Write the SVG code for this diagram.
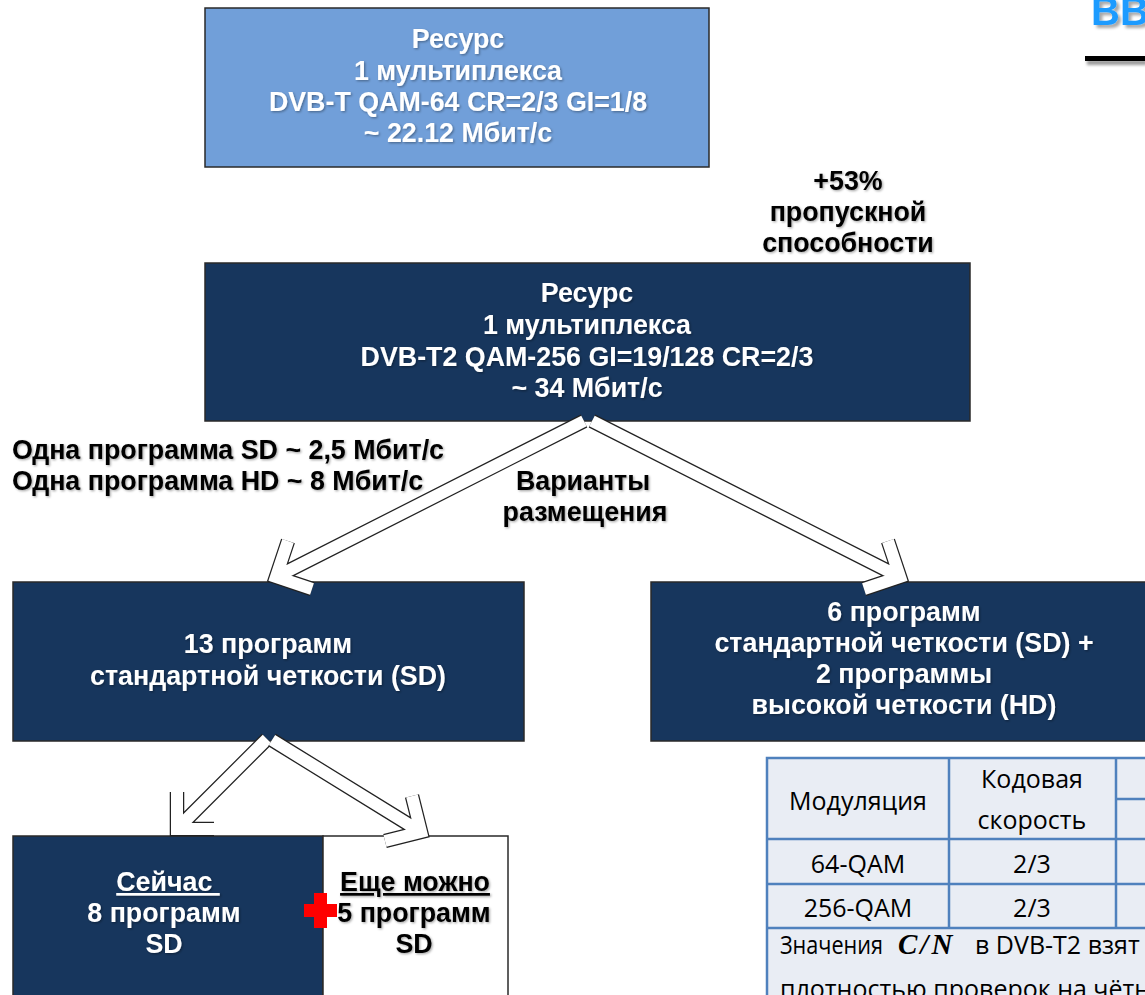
<svg xmlns="http://www.w3.org/2000/svg" xmlns:xlink="http://www.w3.org/1999/xlink" width="1145" height="995" viewBox="0 0 1145 995">
<defs>
<style>
.box{stroke:#2a2a2a;stroke-width:1.5}
.navy{fill:#17365d}
.light{fill:#719fd9}
.wt{fill:#ffffff;font-family:"Liberation Sans",Arial,sans-serif;font-weight:bold;font-size:26.8px;text-anchor:middle}
.bt{fill:#000000;font-family:"Liberation Sans",Arial,sans-serif;font-weight:bold;font-size:26.8px;text-anchor:middle}
.tt{fill:#000000;font-family:"Open Sans",sans-serif;font-size:25px;text-anchor:middle}
.tl{fill:#000000;font-family:"Open Sans",sans-serif;font-size:25px}
.cell{fill:#e9edf4;stroke:#4f81bd;stroke-width:2.5}
.tline{stroke:#4f81bd;stroke-width:2.5;fill:none}
.aout{fill:none;stroke:#222222;stroke-width:14.5;stroke-linejoin:miter;stroke-linecap:butt}
.ain{fill:none;stroke:#ffffff;stroke-width:12;stroke-linejoin:miter;stroke-linecap:butt}
</style>
<filter id="sh" x="-10%" y="-30%" width="120%" height="160%">
<feDropShadow dx="1.2" dy="1.2" stdDeviation="0.9" flood-color="#000000" flood-opacity="0.35"/>
</filter>
<filter id="tsh" x="-20%" y="-50%" width="140%" height="200%">
<feDropShadow dx="3" dy="3" stdDeviation="1.5" flood-color="#000000" flood-opacity="0.35"/>
</filter>
<filter id="blur" x="-20%" y="-100%" width="140%" height="300%">
<feGaussianBlur stdDeviation="1.5"/>
</filter>
<path id="a1" d="M584,421 L276,577 M288,541 L276,577 L312,589"/>
<path id="a2" d="M592,421 L900,577 M888,541 L900,577 L864,589"/>
<path id="a3" d="M267,739 L177,829 M177,792 L177,829 L214,829"/>
<path id="a4" d="M272,740 L421,832 M412,796 L421,832 L385,841"/>
</defs>
<rect width="1145" height="995" fill="#ffffff"/>

<g id="title">
<text x="1091" y="25" font-family="Liberation Sans,Arial,sans-serif" font-weight="bold" font-size="40" fill="#1b9bff" filter="url(#tsh)">ВВ</text>
<rect x="1087" y="60" width="60" height="5" fill="#9a9a9a" filter="url(#blur)"/>
<rect x="1085" y="56" width="60" height="5" fill="#000000"/>
</g>

<g id="node-dvbt">
<rect class="box light" x="205" y="8" width="504" height="159"/>
<g filter="url(#sh)">
<text class="wt" x="458" y="48">Ресурс</text>
<text class="wt" x="458" y="80">1 мультиплекса</text>
<text class="wt" x="458" y="111">DVB-T QAM-64 CR=2/3 GI=1/8</text>
<text class="wt" x="458" y="142">~ 22.12 Мбит/с</text>
</g>
</g>

<g id="label-53" filter="url(#sh)">
<text class="bt" x="848" y="190">+53%</text>
<text class="bt" x="848" y="221">пропускной</text>
<text class="bt" x="848" y="252">способности</text>
</g>

<g id="node-dvbt2">
<rect class="box navy" x="205" y="263" width="765" height="158"/>
<g filter="url(#sh)">
<text class="wt" x="587" y="302">Ресурс</text>
<text class="wt" x="587" y="334">1 мультиплекса</text>
<text class="wt" x="587" y="366">DVB-T2 QAM-256 GI=19/128 CR=2/3</text>
<text class="wt" x="587" y="397">~ 34 Мбит/с</text>
</g>
</g>

<g id="label-rates" filter="url(#sh)">
<text class="bt" x="12" y="459" style="text-anchor:start">Одна программа SD ~ 2,5 Мбит/с</text>
<text class="bt" x="12" y="490" style="text-anchor:start">Одна программа HD ~ 8 Мбит/с</text>
</g>

<g id="label-variants" filter="url(#sh)">
<text class="bt" x="583" y="490">Варианты</text>
<text class="bt" x="585" y="521">размещения</text>
</g>

<g id="node-13sd">
<rect class="box navy" x="13" y="582" width="511" height="159"/>
<g filter="url(#sh)">
<text class="wt" x="268" y="653">13 программ</text>
<text class="wt" x="268" y="685">стандартной четкости (SD)</text>
</g>
</g>

<g id="node-6sd2hd">
<rect class="box navy" x="651" y="582" width="500" height="159"/>
<g filter="url(#sh)">
<text class="wt" x="904" y="621">6 программ</text>
<text class="wt" x="904" y="652">стандартной четкости (SD) +</text>
<text class="wt" x="904" y="683">2 программы</text>
<text class="wt" x="904" y="714">высокой четкости (HD)</text>
</g>
</g>

<g id="node-now">
<rect class="box navy" x="13" y="836" width="310" height="170"/>
<g filter="url(#sh)">
<text class="wt" x="168" y="891" text-decoration="underline">Сейчас&#160;</text>
<text class="wt" x="164" y="922">8 программ</text>
<text class="wt" x="164" y="953">SD</text>
</g>
</g>

<g id="node-more">
<rect class="box" fill="#ffffff" x="323" y="836" width="185" height="170"/>
<g filter="url(#sh)">
<text class="bt" x="415" y="891" text-decoration="underline">Еще можно</text>
<text class="bt" x="414" y="922">5 программ</text>
<text class="bt" x="414" y="953">SD</text>
</g>
<rect x="314" y="893" width="13" height="35" fill="#ff0000"/>
<rect x="304" y="904" width="33" height="13" fill="#ff0000"/>
</g>

<g id="connectors">
<use xlink:href="#a1" href="#a1" class="aout"/>
<use xlink:href="#a1" href="#a1" class="ain"/>
<use xlink:href="#a2" href="#a2" class="aout"/>
<use xlink:href="#a2" href="#a2" class="ain"/>
<use xlink:href="#a3" href="#a3" class="aout"/>
<use xlink:href="#a3" href="#a3" class="ain"/>
<use xlink:href="#a4" href="#a4" class="aout"/>
<use xlink:href="#a4" href="#a4" class="ain"/>
</g>

<g id="table">
<rect class="cell" x="767" y="758" width="400" height="260"/>
<line class="tline" x1="767" y1="839" x2="1145" y2="839"/>
<line class="tline" x1="767" y1="884" x2="1145" y2="884"/>
<line class="tline" x1="767" y1="928" x2="1145" y2="928"/>
<line class="tline" x1="1116" y1="799" x2="1145" y2="799"/>
<line class="tline" x1="949" y1="758" x2="949" y2="928"/>
<line class="tline" x1="1116" y1="758" x2="1116" y2="928"/>
<text class="tt" x="858" y="810">Модуляция</text>
<text class="tt" x="1032" y="788">Кодовая</text>
<text class="tt" x="1032" y="829">скорость</text>
<text class="tt" x="858" y="873">64-QAM</text>
<text class="tt" x="1032" y="873">2/3</text>
<text class="tt" x="858" y="917">256-QAM</text>
<text class="tt" x="1032" y="917">2/3</text>
<text class="tl" x="780" y="954" textLength="103" lengthAdjust="spacingAndGlyphs">Значения</text>
<text x="898" y="954" font-family="Liberation Serif,serif" font-weight="bold" font-style="italic" font-size="29" letter-spacing="3">C/N</text>
<text class="tl" x="975" y="954">в DVB-T2 взят</text>
<text class="tl" x="780" y="998">плотностью проверок на чётн</text>
</g>
</svg>
